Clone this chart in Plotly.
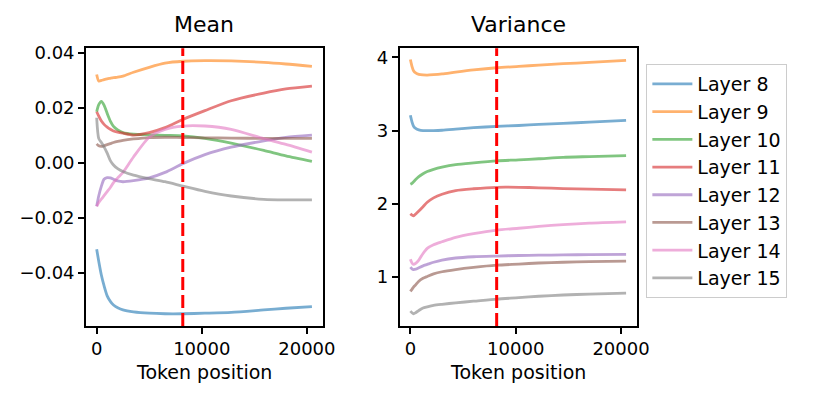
import plotly.graph_objects as go
from plotly.subplots import make_subplots

# token positions sampled along the curves
MEAN_TOKENS = [0, 200, 450, 700, 1000, 1300, 1600, 2000, 2500, 3500, 5000,
               6500, 8200, 10300, 12800, 15900, 18000, 20480]
VAR_TOKENS = [0, 150, 300, 500, 800, 1200, 1600, 2200, 3000, 4300, 6000,
              8200, 10300, 12200, 14500, 17000, 20480]

LAYERS = ["Layer 8", "Layer 9", "Layer 10", "Layer 11",
          "Layer 12", "Layer 13", "Layer 14", "Layer 15"]
COLORS = ["#1f77b4", "#ff7f0e", "#2ca02c", "#d62728",
          "#9467bd", "#8c564b", "#e377c2", "#7f7f7f"]

CONTEXT_LEN = 8192

# Mean per layer
mean_l8 = [-0.0315, -0.0360, -0.0410, -0.0448, -0.0485, -0.0505, -0.0518, -0.0528, -0.0536,
           -0.0543, -0.0548, -0.0550, -0.0550, -0.0548, -0.0545, -0.0536, -0.0530, -0.0524]
mean_l9 = [0.0322, 0.0298, 0.0300, 0.0303, 0.0306, 0.0308, 0.0310, 0.0312, 0.0316,
           0.0330, 0.0348, 0.0363, 0.0370, 0.0372, 0.0371, 0.0366, 0.0360, 0.0351]
mean_l10 = [0.0186, 0.0212, 0.0224, 0.0210, 0.0180, 0.0152, 0.0133, 0.0120, 0.0110,
            0.0104, 0.0102, 0.0100, 0.0098, 0.0089, 0.0072, 0.0045, 0.0025, 0.0005]
mean_l11 = [0.0186, 0.0170, 0.0152, 0.0140, 0.0130, 0.0122, 0.0116, 0.0112, 0.0108,
            0.0101, 0.0110, 0.0128, 0.0158, 0.0190, 0.0226, 0.0254, 0.0269, 0.0279]
mean_l12 = [-0.0158, -0.0120, -0.0085, -0.0060, -0.0054, -0.0055, -0.0060, -0.0066, -0.0069,
            -0.0065, -0.0055, -0.0035, -0.0003, 0.0030, 0.0057, 0.0080, 0.0093, 0.0101]
mean_l13 = [0.0069, 0.0062, 0.0060, 0.0062, 0.0066, 0.0070, 0.0074, 0.0078, 0.0082,
            0.0087, 0.0092, 0.0093, 0.0092, 0.0091, 0.0090, 0.0089, 0.0089, 0.0089]
mean_l14 = [-0.0159, -0.0145, -0.0132, -0.0120, -0.0105, -0.0090, -0.0072, -0.0055, -0.0035,
            0.0021, 0.0093, 0.0122, 0.0134, 0.0134, 0.0122, 0.0088, 0.0067, 0.0039]
mean_l15 = [0.0164, 0.0088, 0.0074, 0.0058, 0.0035, 0.0008, -0.0008, -0.0021, -0.0032,
            -0.0045, -0.0058, -0.0069, -0.0085, -0.0104, -0.0121, -0.0133, -0.0135, -0.0135]

# Variance per layer
var_l8 = [3.21, 3.12, 3.06, 3.03, 3.01, 3.00, 2.999, 3.00, 3.005,
          3.02, 3.04, 3.058, 3.07, 3.085, 3.10, 3.115, 3.139]
var_l9 = [3.973, 3.88, 3.82, 3.79, 3.77, 3.762, 3.76, 3.765, 3.775,
          3.80, 3.83, 3.86, 3.878, 3.896, 3.915, 3.933, 3.96]
var_l10 = [2.268, 2.28, 2.30, 2.33, 2.37, 2.41, 2.44, 2.47, 2.50,
           2.535, 2.56, 2.587, 2.60, 2.615, 2.635, 2.645, 2.658]
var_l11 = [1.864, 1.845, 1.833, 1.86, 1.90, 1.96, 2.02, 2.08, 2.13,
           2.18, 2.205, 2.225, 2.225, 2.218, 2.208, 2.20, 2.191]
var_l12 = [1.133, 1.11, 1.10, 1.105, 1.125, 1.15, 1.17, 1.20, 1.23,
           1.258, 1.275, 1.285, 1.292, 1.297, 1.30, 1.305, 1.308]
var_l13 = [0.801, 0.83, 0.86, 0.89, 0.94, 0.98, 1.005, 1.04, 1.07,
           1.10, 1.13, 1.16, 1.175, 1.19, 1.20, 1.208, 1.214]
var_l14 = [1.241, 1.19, 1.17, 1.185, 1.23, 1.32, 1.39, 1.44, 1.48,
           1.54, 1.59, 1.639, 1.665, 1.69, 1.715, 1.735, 1.752]
var_l15 = [0.532, 0.51, 0.496, 0.51, 0.54, 0.575, 0.59, 0.61, 0.625,
           0.645, 0.667, 0.697, 0.715, 0.735, 0.752, 0.765, 0.778]

mean_series = [mean_l8, mean_l9, mean_l10, mean_l11, mean_l12, mean_l13, mean_l14, mean_l15]
var_series = [var_l8, var_l9, var_l10, var_l11, var_l12, var_l13, var_l14, var_l15]

FONT = "DejaVu Sans"
FS = 18

W, H = 814, 397
SX = 1 / 0.985  # the photo came out ~1.5% narrower than laid out, stretch x a bit


def px(x):
    return x * SX / W


def py(y):
    return 1 - y / H


fig = make_subplots(rows=1, cols=2)

for name, col, m, v in zip(LAYERS, COLORS, mean_series, var_series):
    fig.add_trace(go.Scatter(x=MEAN_TOKENS, y=m, mode="lines", name=name,
                             line=dict(color=col, width=2.8, shape="spline", smoothing=0.7),
                             opacity=0.6), row=1, col=1)
    fig.add_trace(go.Scatter(x=VAR_TOKENS, y=v, mode="lines", name=name, showlegend=False,
                             line=dict(color=col, width=2.8, shape="spline", smoothing=0.7),
                             opacity=0.6), row=1, col=2)

for xr, yr in (("x", "y domain"), ("x2", "y2 domain")):
    fig.add_shape(type="line", xref=xr, yref=yr, x0=CONTEXT_LEN, x1=CONTEXT_LEN, y0=0, y1=1,
                  line=dict(color="red", width=3, dash="13px,5px"))

axis_style = dict(showline=True, mirror=True, linecolor="black", linewidth=1.5,
                  ticks="outside", ticklen=6, tickwidth=1.5, tickcolor="black",
                  showgrid=False, zeroline=False,
                  tickfont=dict(family=FONT, size=FS, color="black"))

fig.update_xaxes(**axis_style, range=[-1024, 21504], tickvals=[0, 10000, 20000],
                 ticktext=["0", "10000", "20000"])
fig.update_xaxes(domain=[px(86), px(323)], row=1, col=1)
fig.update_xaxes(domain=[px(400), px(637.5)], row=1, col=2)
fig.update_yaxes(**axis_style, domain=[py(325), py(43)])
fig.update_yaxes(range=[-0.0595, 0.0417], tickvals=[-0.04, -0.02, 0.0, 0.02, 0.04],
                 ticktext=["\u22120.04", "\u22120.02", "0.00", "0.02", "0.04"], row=1, col=1)
fig.update_yaxes(range=[0.327, 4.125], tickvals=[1, 2, 3, 4], row=1, col=2)

for txt, xc, yc, sz in (("Mean", 204.5, 19, 22), ("Variance", 519, 19, 22),
                        ("Token position", 204.5, 372, 19), ("Token position", 519, 372, 19)):
    fig.add_annotation(text=txt, x=px(xc), y=py(yc), xref="paper", yref="paper",
                       showarrow=False, xanchor="center", yanchor="middle",
                       font=dict(family=FONT, size=sz, color="black"))

fig.update_layout(
    width=W, height=H, autosize=False,
    margin=dict(l=0, r=0, t=0, b=0),
    paper_bgcolor="white", plot_bgcolor="white",
    font=dict(family=FONT, size=FS, color="black"),
    legend=dict(x=px(647), y=py(59), xanchor="left", yanchor="top",
                bordercolor="#cccccc", borderwidth=1, bgcolor="rgba(255,255,255,0.8)",
                font=dict(family=FONT, size=19, color="black"), itemwidth=40),
)

fig.write_html(
    "out.html", config={"displayModeBar": False, "responsive": False},
    post_script="document.body.style.margin='0px';"
                "document.body.style.overflow='hidden';"
                "document.documentElement.style.overflow='hidden';")
